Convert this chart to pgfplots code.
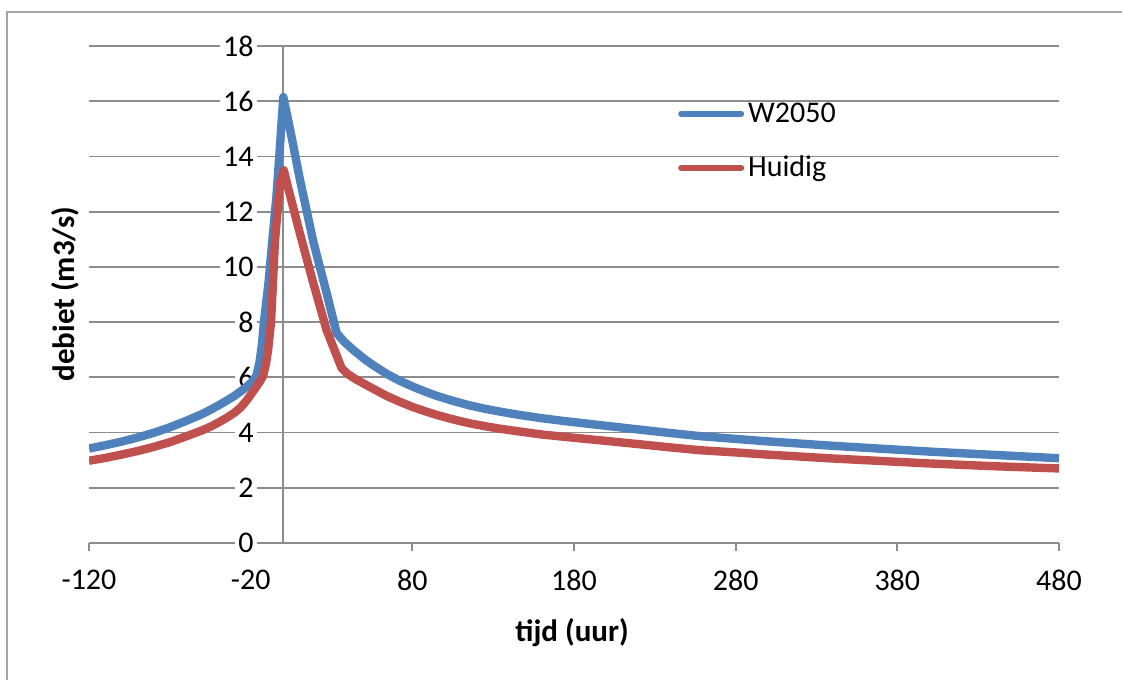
\documentclass[border=0pt]{standalone}
\usepackage{pgfplots}
\pgfplotsset{compat=1.18}
\usepackage{fontspec}
\setmainfont{Carlito}
\definecolor{blueS}{HTML}{4F81BD}
\definecolor{redS}{HTML}{C0504D}
\definecolor{gridc}{HTML}{8C8C8C}
\definecolor{framec}{HTML}{A6A6A6}
\begin{document}
\begin{tikzpicture}
\draw[framec, line width=0.7pt] (3.5pt,-20pt) -- (3.5pt,333.5pt) -- (600pt,333.5pt);
\begin{axis}[
  set layers,
  at={(44.5pt,68pt)}, anchor=south west,
  scale only axis, width=485pt, height=248.5pt,
  xmin=-120, xmax=480, ymin=0, ymax=18,
  axis lines*=middle,
  axis line style={gridc, line width=0.9pt},
  hide obscured x ticks=false, hide obscured y ticks=false,
  xtick={-120,-20,80,180,280,380,480},
  xticklabels={-120,-20,80,180,280,380,480},
  ytick={0,2,4,6,8,10,12,14,16,18},
  yticklabels={0,2,4,6,8,10,12,14,16,18},
  tick align=outside,
  major tick length=4pt,
  tick style={gridc, line width=0.9pt},
  ymajorgrids, grid style={gridc, line width=0.9pt},
  ticklabel style={font=\fontsize{15}{18}\selectfont, inner sep=1.5pt},
  xticklabel style={anchor=north, yshift=-8pt},
  yticklabel style={anchor=east, xshift=-9pt, fill=white},
  xlabel={tijd (uur)},
  xlabel style={at={(axis description cs:0.498,-0.181)}, anchor=center, font=\bfseries\fontsize{15.5}{18}\selectfont},
  ylabel={debiet (m3/s)},
  ylabel style={at={(axis description cs:-0.0247,0.501)}, anchor=center, font=\bfseries\fontsize{15.5}{18}\selectfont},
  legend style={draw=none, fill=none, at={(axis description cs:0.607,0.895)}, anchor=north west,
    font=\fontsize{15}{18}\selectfont, inner sep=0pt, row sep=11.5pt},
  legend cell align=left,
  legend image code/.code={\draw[#1, line width=3pt, line cap=round] (0pt,0pt) -- (30pt,0pt);},
]
\addplot[blueS, line width=4.2pt, line join=round] coordinates {
(-120,3.42) (-110,3.54) (-100,3.67) (-90,3.82) (-80,3.99) (-76,4.07) (-70,4.19)
(-60,4.42) (-50,4.67) (-45,4.82) (-40,4.98) (-35,5.15) (-30,5.33) (-26,5.5)
(-22,5.68) (-19,5.85) (-16.5,6.05) (-14.5,6.55) (-13,7.2) (-11.8,8.0) (-9,9.4)
(-7,10.7) (-4,12.6) (-2.3,14.0) (0.2,16.15) (4.3,15.0) (10.7,13.1) (18.8,10.9)
(27,9.05) (33.2,7.6) (38,7.28)
(43.5,6.99) (50,6.68) (56,6.43) (64,6.13) (72,5.88) (80,5.67) (88,5.48)
(95,5.33) (105,5.15) (115,4.99) (125,4.86) (134,4.76) (146,4.64) (160,4.52)
(175,4.41) (196,4.27) (220,4.11) (240,3.98) (258,3.87) (280,3.77) (300,3.68)
(320,3.60) (340,3.52) (360,3.45) (380,3.38) (400,3.31) (420,3.25) (440,3.19)
(460,3.13) (480,3.07)
};
\addlegendentry{W2050}
\addplot[redS, line width=4.2pt, line join=round] coordinates {
(-120,2.98) (-110,3.08) (-100,3.2) (-90,3.33) (-80,3.48) (-76,3.55) (-70,3.65)
(-60,3.86) (-50,4.08) (-45,4.21) (-40,4.36) (-35,4.53) (-30,4.72) (-26,4.92)
(-22,5.2) (-19,5.45) (-16,5.7) (-14,5.88) (-12.3,6.05) (-10.5,6.5) (-9.2,7.0)
(-7.4,8.0) (-5,10.9) (-2,13.0) (0.5,13.5) (3,12.9) (10.5,11.2) (18.8,9.4) (27,7.7)
(36.3,6.33) (40,6.12) (45,5.93) (50,5.77) (56,5.58) (64,5.33) (72,5.12)
(80,4.93) (88,4.77) (95,4.64) (105,4.48) (115,4.34) (125,4.23) (134,4.14)
(146,4.04) (160,3.93) (175,3.84) (196,3.72) (220,3.58) (240,3.46) (258,3.36)
(280,3.28) (300,3.20) (320,3.13) (340,3.06) (360,3.00) (380,2.94) (400,2.88)
(420,2.83) (440,2.78) (460,2.74) (480,2.70)
};
\addlegendentry{Huidig}
\end{axis}
\pgfresetboundingbox
\useasboundingbox (0,0) rectangle (561pt,339.5pt);
\end{tikzpicture}
\end{document}
